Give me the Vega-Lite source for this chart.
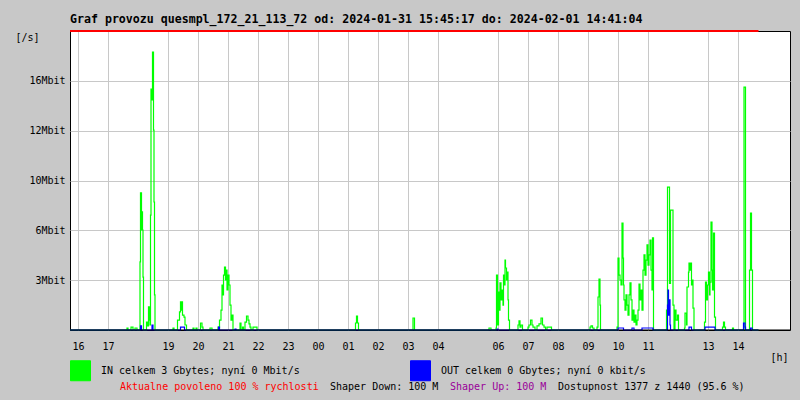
{
  "$schema": "https://vega.github.io/schema/vega-lite/v6.json",
  "width": 720,
  "height": 299,
  "autosize": {"type": "none"},
  "padding": {"left": 70, "top": 31, "right": 10, "bottom": 70},
  "background": "#c8c8c8",
  "view": {"fill": "#ffffff", "stroke": "#000000", "strokeWidth": 1},
  "title": {
    "text": "Graf provozu quesmpl_172_21_113_72 od: 2024-01-31 15:45:17 do: 2024-02-01 14:41:04",
    "anchor": "start",
    "frame": "group",
    "font": "DejaVu Sans Mono",
    "fontSize": 11.6,
    "fontWeight": "bold",
    "color": "#000000",
    "baseline": "top",
    "offset": 4
  },
  "config": {
    "view": {"stroke": "#000000", "strokeWidth": 1, "fill": "#ffffff"},
    "axisX": {"labelOverlap": false, "labelFlush": false, "grid": true, "gridColor": "#c8c8c8", "ticks": false, "domain": false, "tickCount": 40},
    "axisY": {"labelOverlap": false, "grid": true, "gridColor": "#c8c8c8", "ticks": false, "domain": false, "tickCount": 10}
  },
  "datasets": {
    "traffic": [
      {"m":0,"v":0,"s":"IN"},{"m":114,"v":0.13,"s":"IN"},{"m":116,"v":0,"s":"IN"},{"m":122,"v":0.19,"s":"IN"},{"m":126,"v":0,"s":"IN"},{"m":130,"v":0.13,"s":"IN"},{"m":134,"v":0,"s":"IN"},
      {"m":140,"v":4.37,"s":"IN"},{"m":141,"v":8.8,"s":"IN"},{"m":143,"v":6.42,"s":"IN"},{"m":144,"v":7.58,"s":"IN"},{"m":145,"v":6.42,"s":"IN"},{"m":146,"v":3.4,"s":"IN"},{"m":147,"v":0,"s":"IN"},
      {"m":153,"v":0.51,"s":"IN"},{"m":155,"v":0.26,"s":"IN"},{"m":157,"v":1.48,"s":"IN"},{"m":159,"v":0.64,"s":"IN"},{"m":160,"v":0.32,"s":"IN"},
      {"m":161,"v":7.38,"s":"IN"},{"m":162,"v":15.47,"s":"IN"},{"m":164,"v":14.77,"s":"IN"},{"m":165,"v":17.85,"s":"IN"},{"m":167,"v":12.84,"s":"IN"},{"m":168,"v":8.22,"s":"IN"},{"m":169,"v":2.25,"s":"IN"},{"m":170,"v":0,"s":"IN"},
      {"m":206,"v":0.13,"s":"IN"},{"m":208,"v":0,"s":"IN"},{"m":215,"v":0.64,"s":"IN"},{"m":219,"v":1.16,"s":"IN"},{"m":221,"v":1.8,"s":"IN"},{"m":223,"v":1.28,"s":"IN"},{"m":224,"v":1.8,"s":"IN"},{"m":225,"v":0.96,"s":"IN"},{"m":228,"v":0.83,"s":"IN"},{"m":230,"v":0.32,"s":"IN"},{"m":233,"v":0,"s":"IN"},
      {"m":246,"v":0.13,"s":"IN"},{"m":248,"v":0,"s":"IN"},{"m":252,"v":0.13,"s":"IN"},{"m":254,"v":0,"s":"IN"},{"m":261,"v":0.45,"s":"IN"},{"m":264,"v":0.19,"s":"IN"},{"m":266,"v":0,"s":"IN"},{"m":280,"v":0.13,"s":"IN"},{"m":284,"v":0,"s":"IN"},
      {"m":296,"v":0.19,"s":"IN"},{"m":299,"v":0.64,"s":"IN"},{"m":302,"v":1.28,"s":"IN"},{"m":304,"v":2.89,"s":"IN"},{"m":306,"v":2.25,"s":"IN"},{"m":307,"v":3.53,"s":"IN"},{"m":309,"v":4.04,"s":"IN"},{"m":311,"v":3.21,"s":"IN"},{"m":312,"v":3.85,"s":"IN"},{"m":314,"v":2.57,"s":"IN"},{"m":316,"v":3.53,"s":"IN"},{"m":318,"v":2.89,"s":"IN"},{"m":320,"v":1.6,"s":"IN"},{"m":322,"v":0.64,"s":"IN"},{"m":324,"v":0.96,"s":"IN"},{"m":326,"v":0,"s":"IN"},
      {"m":340,"v":0.45,"s":"IN"},{"m":342,"v":0,"s":"IN"},{"m":345,"v":0.19,"s":"IN"},{"m":347,"v":0,"s":"IN"},{"m":350,"v":0.51,"s":"IN"},{"m":353,"v":0.9,"s":"IN"},{"m":356,"v":0.64,"s":"IN"},{"m":358,"v":0.39,"s":"IN"},{"m":360,"v":0.19,"s":"IN"},{"m":362,"v":0,"s":"IN"},{"m":366,"v":0.19,"s":"IN"},{"m":374,"v":0,"s":"IN"},
      {"m":571,"v":0.45,"s":"IN"},{"m":573,"v":0.9,"s":"IN"},{"m":575,"v":0.45,"s":"IN"},{"m":577,"v":0,"s":"IN"},{"m":686,"v":0.77,"s":"IN"},{"m":689,"v":0,"s":"IN"},{"m":838,"v":0.13,"s":"IN"},{"m":842,"v":0,"s":"IN"},
      {"m":852,"v":0.13,"s":"IN"},{"m":853,"v":3.53,"s":"IN"},{"m":855,"v":0.32,"s":"IN"},{"m":857,"v":2.44,"s":"IN"},{"m":858,"v":1.28,"s":"IN"},{"m":860,"v":3.02,"s":"IN"},{"m":862,"v":1.93,"s":"IN"},{"m":864,"v":2.57,"s":"IN"},{"m":866,"v":1.6,"s":"IN"},{"m":867,"v":3.53,"s":"IN"},{"m":869,"v":2.89,"s":"IN"},{"m":870,"v":4.49,"s":"IN"},{"m":871,"v":3.98,"s":"IN"},{"m":873,"v":3.21,"s":"IN"},{"m":875,"v":3.72,"s":"IN"},{"m":876,"v":1.93,"s":"IN"},{"m":877,"v":0.64,"s":"IN"},{"m":879,"v":0,"s":"IN"},
      {"m":896,"v":0.32,"s":"IN"},{"m":898,"v":0.58,"s":"IN"},{"m":900,"v":0.19,"s":"IN"},{"m":902,"v":0.32,"s":"IN"},{"m":905,"v":0,"s":"IN"},{"m":916,"v":0.19,"s":"IN"},{"m":918,"v":0.32,"s":"IN"},{"m":921,"v":0.64,"s":"IN"},{"m":924,"v":0.32,"s":"IN"},{"m":926,"v":0.19,"s":"IN"},{"m":930,"v":0,"s":"IN"},
      {"m":934,"v":0.26,"s":"IN"},{"m":938,"v":0.39,"s":"IN"},{"m":942,"v":0.77,"s":"IN"},{"m":945,"v":0.32,"s":"IN"},{"m":948,"v":0.19,"s":"IN"},{"m":951,"v":0,"s":"IN"},{"m":954,"v":0.19,"s":"IN"},{"m":963,"v":0,"s":"IN"},
      {"m":1040,"v":0.19,"s":"IN"},{"m":1042,"v":0.26,"s":"IN"},{"m":1045,"v":0.13,"s":"IN"},{"m":1048,"v":0,"s":"IN"},{"m":1054,"v":0.19,"s":"IN"},{"m":1056,"v":2.12,"s":"IN"},{"m":1058,"v":3.27,"s":"IN"},{"m":1060,"v":1.6,"s":"IN"},{"m":1061,"v":0,"s":"IN"},
      {"m":1094,"v":0.19,"s":"IN"},{"m":1096,"v":4.62,"s":"IN"},{"m":1098,"v":3.53,"s":"IN"},{"m":1100,"v":3.21,"s":"IN"},{"m":1102,"v":2.89,"s":"IN"},{"m":1104,"v":6.87,"s":"IN"},{"m":1106,"v":4.62,"s":"IN"},{"m":1107,"v":2.89,"s":"IN"},{"m":1108,"v":1.93,"s":"IN"},{"m":1110,"v":1.28,"s":"IN"},{"m":1112,"v":2.25,"s":"IN"},{"m":1114,"v":1.6,"s":"IN"},{"m":1116,"v":0.96,"s":"IN"},{"m":1118,"v":2.25,"s":"IN"},{"m":1120,"v":3.02,"s":"IN"},{"m":1122,"v":1.93,"s":"IN"},{"m":1124,"v":0.64,"s":"IN"},{"m":1126,"v":1.28,"s":"IN"},{"m":1128,"v":0.51,"s":"IN"},{"m":1130,"v":0.96,"s":"IN"},{"m":1132,"v":0.32,"s":"IN"},{"m":1134,"v":0.64,"s":"IN"},
      {"m":1136,"v":1.28,"s":"IN"},{"m":1138,"v":2.95,"s":"IN"},{"m":1140,"v":1.93,"s":"IN"},{"m":1142,"v":2.57,"s":"IN"},{"m":1144,"v":1.28,"s":"IN"},{"m":1146,"v":3.85,"s":"IN"},{"m":1148,"v":4.82,"s":"IN"},{"m":1150,"v":3.53,"s":"IN"},{"m":1152,"v":4.49,"s":"IN"},{"m":1154,"v":5.46,"s":"IN"},{"m":1156,"v":4.17,"s":"IN"},{"m":1158,"v":4.82,"s":"IN"},{"m":1160,"v":5.78,"s":"IN"},{"m":1162,"v":3.85,"s":"IN"},{"m":1164,"v":2.57,"s":"IN"},{"m":1165,"v":5.91,"s":"IN"},{"m":1167,"v":0,"s":"IN"},
      {"m":1193,"v":1.28,"s":"IN"},{"m":1195,"v":9.18,"s":"IN"},{"m":1199,"v":3.0,"s":"IN"},{"m":1201,"v":7.7,"s":"IN"},{"m":1206,"v":1.6,"s":"IN"},{"m":1208,"v":0,"s":"IN"},{"m":1210,"v":1.28,"s":"IN"},{"m":1212,"v":0.64,"s":"IN"},{"m":1215,"v":0.96,"s":"IN"},{"m":1217,"v":0,"s":"IN"},
      {"m":1229,"v":0.13,"s":"IN"},{"m":1230,"v":1.09,"s":"IN"},{"m":1233,"v":0.32,"s":"IN"},{"m":1234,"v":2.76,"s":"IN"},{"m":1237,"v":3.72,"s":"IN"},{"m":1238,"v":4.3,"s":"IN"},{"m":1240,"v":3.85,"s":"IN"},{"m":1241,"v":4.3,"s":"IN"},{"m":1243,"v":2.89,"s":"IN"},{"m":1245,"v":3.21,"s":"IN"},{"m":1246,"v":1.41,"s":"IN"},{"m":1248,"v":0,"s":"IN"},
      {"m":1269,"v":0.51,"s":"IN"},{"m":1271,"v":3.08,"s":"IN"},{"m":1273,"v":1.93,"s":"IN"},{"m":1275,"v":2.89,"s":"IN"},{"m":1277,"v":3.72,"s":"IN"},{"m":1279,"v":2.25,"s":"IN"},{"m":1280,"v":3.08,"s":"IN"},{"m":1282,"v":6.93,"s":"IN"},{"m":1284,"v":3.85,"s":"IN"},{"m":1285,"v":2.57,"s":"IN"},{"m":1287,"v":6.23,"s":"IN"},{"m":1289,"v":0.83,"s":"IN"},{"m":1291,"v":0,"s":"IN"},
      {"m":1305,"v":0.19,"s":"IN"},{"m":1307,"v":0.51,"s":"IN"},{"m":1309,"v":0.19,"s":"IN"},{"m":1311,"v":0,"s":"IN"},{"m":1325,"v":0.13,"s":"IN"},{"m":1327,"v":0,"s":"IN"},
      {"m":1348,"v":15.6,"s":"IN"},{"m":1351,"v":0,"s":"IN"},{"m":1359,"v":3.85,"s":"IN"},{"m":1361,"v":7.51,"s":"IN"},{"m":1363,"v":3.85,"s":"IN"},{"m":1365,"v":0,"s":"IN"},{"m":1377,"v":0,"s":"IN"},
      {"m":0,"v":0,"s":"OUT"},{"m":141,"v":0.26,"s":"OUT"},{"m":143,"v":0,"s":"OUT"},{"m":164,"v":0.32,"s":"OUT"},{"m":166,"v":0,"s":"OUT"},{"m":221,"v":0.19,"s":"OUT"},{"m":229,"v":0,"s":"OUT"},{"m":297,"v":0.19,"s":"OUT"},{"m":299,"v":0,"s":"OUT"},{"m":330,"v":0.06,"s":"OUT"},{"m":332,"v":0,"s":"OUT"},
      {"m":854,"v":0.06,"s":"OUT"},{"m":856,"v":0,"s":"OUT"},{"m":1096,"v":0.13,"s":"OUT"},{"m":1107,"v":0,"s":"OUT"},{"m":1124,"v":0.13,"s":"OUT"},{"m":1128,"v":0,"s":"OUT"},{"m":1144,"v":0.13,"s":"OUT"},{"m":1166,"v":0,"s":"OUT"},
      {"m":1195,"v":1.6,"s":"OUT"},{"m":1196,"v":2.57,"s":"OUT"},{"m":1197,"v":0.96,"s":"OUT"},{"m":1199,"v":1.93,"s":"OUT"},{"m":1200,"v":0.32,"s":"OUT"},{"m":1201,"v":0,"s":"OUT"},
      {"m":1238,"v":0.19,"s":"OUT"},{"m":1243,"v":0,"s":"OUT"},{"m":1270,"v":0.19,"s":"OUT"},{"m":1290,"v":0,"s":"OUT"},{"m":1347,"v":0.45,"s":"OUT"},{"m":1350,"v":0.19,"s":"OUT"},{"m":1351,"v":0,"s":"OUT"},{"m":1361,"v":0.13,"s":"OUT"},{"m":1364,"v":0,"s":"OUT"},{"m":1377,"v":0,"s":"OUT"}
    ],
    "limit": [{"start": 0, "end": 1377, "cap": 19.2, "full": 1440}],
    "info": [
      {"t": "Aktualne povoleno 100 % rychlosti"},
      {"t": "Shaper Down: 100 M"},
      {"t": "Shaper Up: 100 M"},
      {"t": "Dostupnost 1377 z 1440 (95.6 %)"}
    ]
  },
  "layer": [
    {
      "data": {"name": "traffic"},
      "mark": {"type": "line", "interpolate": "step-after", "strokeWidth": 1.2},
      "encoding": {
        "x": {
          "field": "m", "type": "quantitative",
          "scale": {"domain": [0, 1440], "nice": false, "zero": false},
          "axis": {
            "values": [16,76,196,256,316,376,436,496,556,616,676,736,856,916,976,1036,1096,1156,1276,1336],
            "tickCount": 40,
            "labelExpr": "((((datum.value - 16) / 60 + 16) % 24) < 10 ? '0' : '') + (((datum.value - 16) / 60 + 16) % 24)",
            "grid": true, "gridColor": "#c8c8c8", "gridWidth": 1,
            "ticks": false, "domain": false,
            "labelPadding": 11, "labelFlush": false, "labelOverlap": false,
            "labelFont": "DejaVu Sans Mono", "labelFontSize": 10, "labelColor": "#000000",
            "title": "[h]", "titleX": 700, "titleY": 27, "titleAlign": "left", "titleBaseline": "middle",
            "titleFont": "DejaVu Sans Mono", "titleFontSize": 10, "titleFontWeight": "normal", "titleColor": "#000000"
          }
        },
        "y": {
          "field": "v", "type": "quantitative",
          "scale": {"domain": [0, 19.2], "nice": false},
          "axis": {
            "values": [3.2, 6.4, 9.6, 12.8, 16],
            "tickCount": 10,
            "labelExpr": "datum.value == 16 ? '16Mbit' : datum.value == 12.8 ? '12Mbit' : datum.value == 9.6 ? '10Mbit' : datum.value == 6.4 ? '6Mbit' : '3Mbit'",
            "grid": true, "gridColor": "#c8c8c8", "gridWidth": 1,
            "ticks": false, "domain": false, "labelPadding": 5, "labelOverlap": false,
            "labelFont": "DejaVu Sans Mono", "labelFontSize": 10, "labelColor": "#000000",
            "title": "[/s]", "titleAngle": 0, "titleX": -55, "titleY": 6, "titleAlign": "left", "titleBaseline": "middle",
            "titleFont": "DejaVu Sans Mono", "titleFontSize": 10, "titleFontWeight": "normal", "titleColor": "#000000"
          }
        },
        "color": {
          "field": "s", "type": "nominal",
          "scale": {"domain": ["IN", "OUT"], "range": ["#00ff00", "#0000ff"]},
          "legend": {
            "orient": "none", "legendX": 0, "legendY": 329, "direction": "horizontal", "columns": 2,
            "columnPadding": 108, "padding": 0, "title": null,
            "symbolType": "square", "symbolSize": 400, "symbolStrokeWidth": 1, "symbolStrokeColor": "#000000",
            "labelOffset": 10, "labelFont": "DejaVu Sans Mono", "labelFontSize": 10, "labelColor": "#000000", "labelLimit": 400,
            "labelExpr": "datum.value == 'IN' ? 'IN celkem 3 Gbytes; nyní 0 Mbit/s' : 'OUT celkem 0 Gbytes; nyní 0 kbit/s'",
            "encode": {"symbols": {"update": {"fill": {"scale": "color", "field": "value"}, "fillOpacity": {"value": 1}, "stroke": {"value": "#000000"}, "opacity": {"value": 1}}}}
          }
        }
      }
    },
    {
      "data": {"name": "limit"},
      "mark": {"type": "rule", "color": "#ff0000", "strokeWidth": 2},
      "encoding": {
        "x": {"field": "start", "type": "quantitative"},
        "x2": {"field": "end"},
        "y": {"field": "cap", "type": "quantitative"}
      }
    },
    {
      "data": {"name": "limit"},
      "mark": {"type": "rule", "color": "#000000", "strokeWidth": 1},
      "encoding": {
        "x": {"field": "start", "type": "quantitative"},
        "x2": {"field": "full"},
        "y": {"datum": 0, "type": "quantitative"}
      }
    },
    {
      "data": {"name": "info"},
      "mark": {"type": "point", "opacity": 0},
      "encoding": {
        "shape": {
          "field": "t", "type": "nominal",
          "scale": {"domain": ["Aktualne povoleno 100 % rychlosti", "Shaper Down: 100 M", "Shaper Up: 100 M", "Dostupnost 1377 z 1440 (95.6 %)"]},
          "legend": {
            "orient": "none", "legendX": 40, "legendY": 351, "direction": "horizontal", "columns": 4,
            "columnPadding": 1, "padding": 0, "title": null, "gridAlign": "none",
            "symbolSize": 1, "symbolOpacity": 0, "symbolStrokeWidth": 0, "labelOffset": 0,
            "labelFont": "DejaVu Sans Mono", "labelFontSize": 10, "labelLimit": 400,
            "labelColor": {"expr": "datum.value === 'Aktualne povoleno 100 % rychlosti' ? '#ff0000' : datum.value === 'Shaper Up: 100 M' ? '#990099' : '#000000'"}
          }
        }
      }
    }
  ]
}
